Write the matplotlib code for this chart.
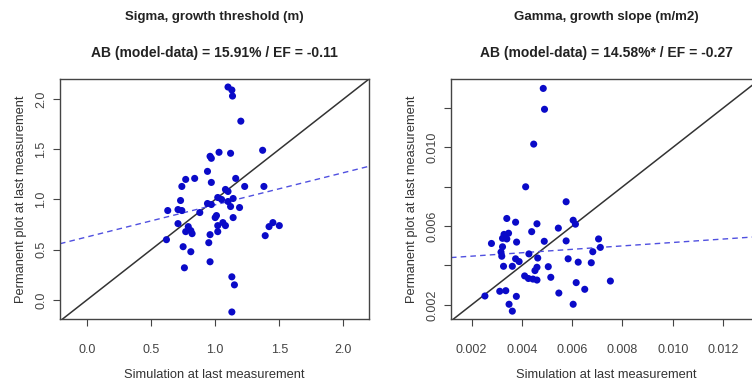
import matplotlib
matplotlib.use("Agg")
import matplotlib.pyplot as plt

plt.rcParams['font.family'] = ['Liberation Sans', 'DejaVu Sans']

# Sigma: simulated vs observed growth threshold
sigma_sim = [1.10, 1.13, 1.135, 1.20, 1.37, 1.03, 1.12, 0.96, 0.97, 0.94,
             0.77, 0.74, 0.84, 0.97, 1.16, 1.23, 1.38, 1.08, 1.10, 0.73,
             0.94, 0.97, 1.02, 1.05, 1.10, 1.14, 1.12, 1.19, 0.63, 0.71,
             0.74, 0.88, 1.01, 1.00, 1.14, 0.71, 1.02, 1.06, 1.08, 0.79,
             0.81, 0.77, 0.82, 1.02, 0.96, 0.95, 0.62, 0.75, 0.81, 0.96,
             0.76, 1.39, 1.42, 1.45, 1.50, 1.13, 1.15, 1.13]
sigma_obs = [2.12, 2.09, 2.03, 1.78, 1.49, 1.47, 1.46, 1.43, 1.41, 1.28,
             1.20, 1.13, 1.21, 1.17, 1.21, 1.13, 1.13, 1.10, 1.08, 0.99,
             0.96, 0.95, 1.02, 1.00, 0.98, 1.01, 0.93, 0.92, 0.89, 0.90,
             0.89, 0.87, 0.84, 0.82, 0.82, 0.76, 0.74, 0.77, 0.74, 0.73,
             0.69, 0.68, 0.66, 0.68, 0.65, 0.57, 0.60, 0.53, 0.48, 0.38,
             0.32, 0.64, 0.73, 0.77, 0.74, 0.23, 0.15, -0.12]

# Gamma: simulated vs observed growth slope
gamma_sim = [0.00485, 0.0049, 0.00447, 0.00415, 0.00576, 0.0034, 0.00375,
             0.0046, 0.00604, 0.00613, 0.00545, 0.00439, 0.00329, 0.00347,
             0.00323, 0.0034, 0.00279, 0.00379, 0.00323, 0.00489, 0.00576,
             0.00705, 0.00712, 0.00682, 0.00317, 0.0032, 0.00428, 0.00463,
             0.00375, 0.00389, 0.00584, 0.00624, 0.00676, 0.00327, 0.00362,
             0.0046, 0.00452, 0.00505, 0.00411, 0.00426, 0.00444, 0.0046,
             0.00515, 0.00616, 0.00752, 0.0065, 0.00547, 0.00312, 0.00336,
             0.00253, 0.00378, 0.00349, 0.00362, 0.00604]
gamma_obs = [0.0130, 0.01194, 0.01017, 0.0080, 0.00724, 0.00639, 0.0062,
             0.00612, 0.0063, 0.0061, 0.0059, 0.00572, 0.00558, 0.00564,
             0.00538, 0.00535, 0.00512, 0.00519, 0.00495, 0.00523, 0.00525,
             0.00535, 0.00492, 0.0047, 0.00468, 0.00447, 0.00459, 0.00438,
             0.00434, 0.0042, 0.00434, 0.00417, 0.00414, 0.00396, 0.00396,
             0.00391, 0.00374, 0.00394, 0.00347, 0.00334, 0.00331, 0.00326,
             0.0034, 0.00313, 0.00321, 0.00279, 0.0026, 0.00269, 0.00272,
             0.00245, 0.00243, 0.00203, 0.00168, 0.00203]

# linear fits (intercept, slope)
sigma_fit = (0.627, 0.32)
gamma_fit = (0.0043, 0.087)

sigma_ticks = [0.0, 0.5, 1.0, 1.5, 2.0]
sigma_ticklabels = ["0.0", "0.5", "1.0", "1.5", "2.0"]
gamma_xticks = [0.002, 0.004, 0.006, 0.008, 0.010, 0.012]
gamma_xticklabels = ["0.002", "0.004", "0.006", "0.008", "0.010", "0.012"]
gamma_yticks = [0.002, 0.004, 0.006, 0.008, 0.010, 0.012]
gamma_yticklabels = ["0.002", "", "0.006", "", "0.010", ""]

panels = [
    dict(sim=sigma_sim, obs=sigma_obs, fit=sigma_fit,
         xlim=(-0.21, 2.2), ylim=(-0.19, 2.2),
         xticks=sigma_ticks, xticklabels=sigma_ticklabels,
         yticks=sigma_ticks, yticklabels=sigma_ticklabels,
         title="Sigma, growth threshold (m)",
         stats="AB (model-data) = 15.91% / EF = -0.11",
         rect=[0.0798, 0.1627, 0.411, 0.63]),
    dict(sim=gamma_sim, obs=gamma_obs, fit=gamma_fit,
         xlim=(0.00118, 0.01355), ylim=(0.00128, 0.01348),
         xticks=gamma_xticks, xticklabels=gamma_xticklabels,
         yticks=gamma_yticks, yticklabels=gamma_yticklabels,
         title="Gamma, growth slope (m/m2)",
         stats="AB (model-data) = 14.58%* / EF = -0.27",
         rect=[0.5997, 0.1627, 0.4136, 0.63]),
]

fig = plt.figure(figsize=(7.52, 3.81), dpi=100)

for p in panels:
    ax = fig.add_axes(p["rect"])
    ax.scatter(p["sim"], p["obs"], s=26, color="#0a0ac8", zorder=3,
               edgecolors="none")
    ax.axline((0, 0), slope=1, color="#333333", lw=1.1, zorder=2)
    a, b = p["fit"]
    ax.axline((0, a), slope=b, color="#5050e0", lw=1.0, ls=(0, (4, 3)),
              zorder=2)
    ax.set_xlim(p["xlim"])
    ax.set_ylim(p["ylim"])
    ax.set_xticks(p["xticks"])
    ax.set_xticklabels(p["xticklabels"])
    ax.set_yticks(p["yticks"])
    ax.set_yticklabels(p["yticklabels"], rotation=90, va="center")
    ax.tick_params(direction="out", length=5, width=0.8, labelsize=9,
                   colors="#444444")
    ax.tick_params(axis="x", pad=13)
    ax.tick_params(axis="y", pad=4)
    for s in ax.spines.values():
        s.set_color("#444444")
        s.set_linewidth(1.0)
    ax.set_xlabel("Simulation at last measurement", fontsize=9.3,
                  color="#333333", labelpad=9)
    ax.set_ylabel("Permanent plot at last measurement", fontsize=9.3,
                  color="#333333", labelpad=6)
    ax.text(0.5, 1.0 + 62 / 240, p["title"], transform=ax.transAxes,
            ha="center", va="center", fontsize=9.5, fontweight="bold",
            color="#222222")
    ax.text(0.5, 1.0 + 26 / 240, p["stats"], transform=ax.transAxes,
            ha="center", va="center", fontsize=10, fontweight="bold",
            color="#222222")

fig.savefig("out.png", dpi=100)
